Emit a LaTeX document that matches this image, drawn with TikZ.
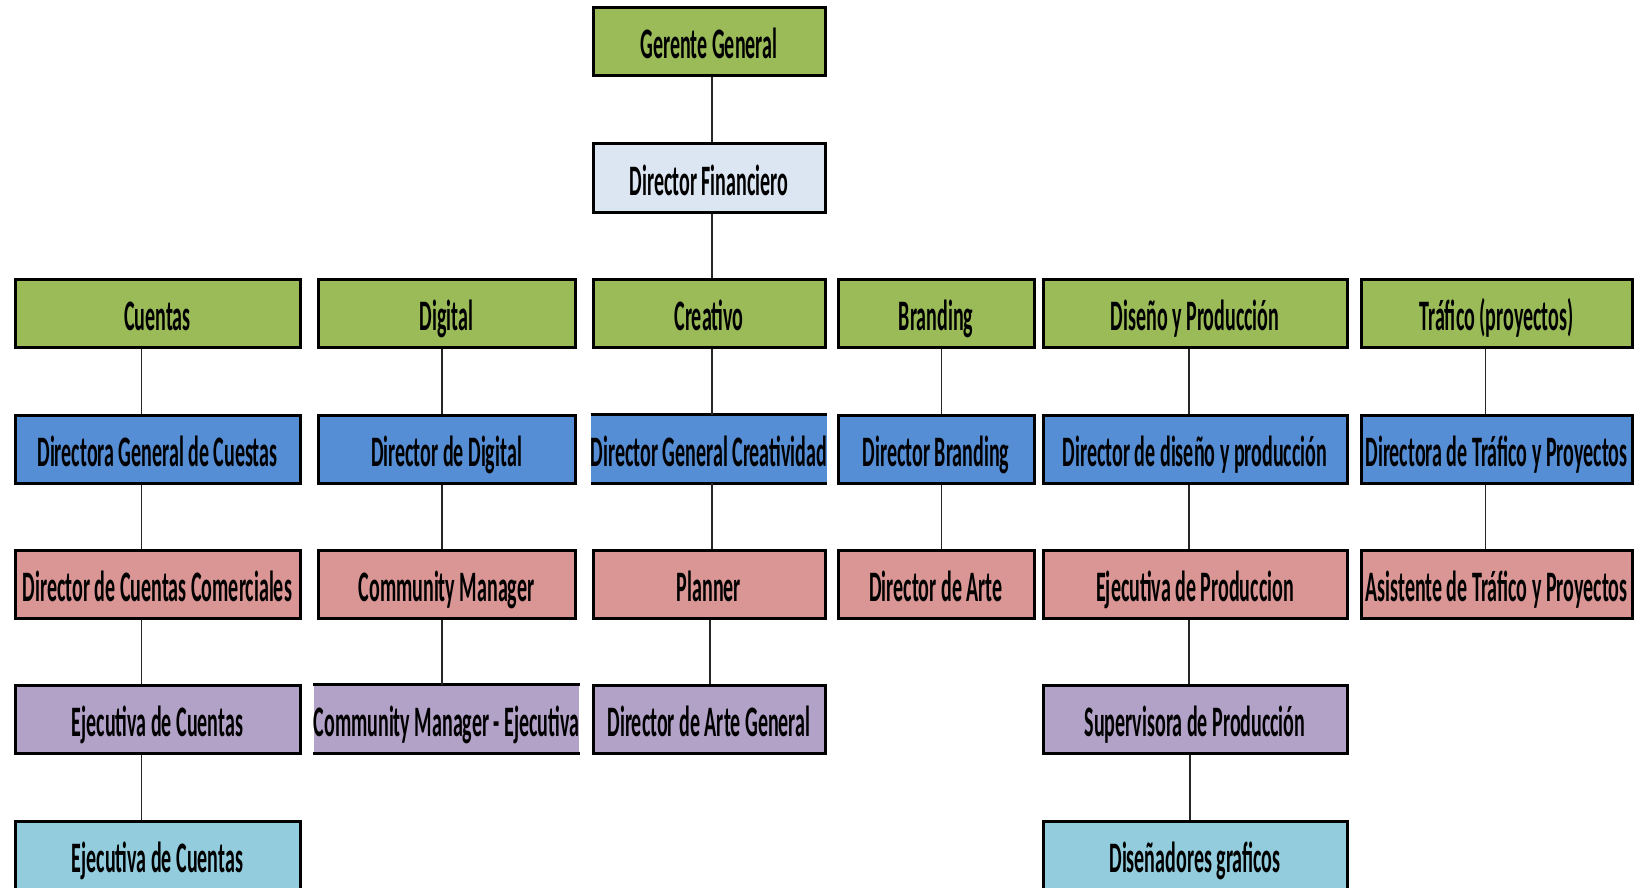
\documentclass[tikz,border=0pt]{standalone}
\usepackage{fontspec}
\setmainfont{Carlito}[FakeStretch=0.46]

\definecolor{lvlgreen}{HTML}{9BBB59}
\definecolor{lvlpale}{HTML}{DCE6F2}
\definecolor{lvlblue}{HTML}{558ED5}
\definecolor{lvlpink}{HTML}{D99694}
\definecolor{lvlpurple}{HTML}{B3A2C7}
\definecolor{lvlcyan}{HTML}{93CDDD}

\tikzset{org box/.style={draw, line width=3pt, minimum height=68pt, inner sep=0pt, text height=36pt, text depth=2pt, font=\fontsize{43.5}{50}\selectfont\bfseries},
         open box/.style={minimum height=68pt, inner sep=0pt, text height=36pt, text depth=2pt, font=\fontsize{43.5}{50}\selectfont\bfseries},
         org link/.style={draw=black!85, line width=1.5pt},}

\begin{document}
\begin{tikzpicture}[x=1pt,y=-1pt]
\useasboundingbox (0,0) rectangle (1646,888);
\clip (0,0) rectangle (1646,888);
% top
\node [org box,fill=lvlgreen,minimum width=232pt] (gerente) at ( 709, 42) {Gerente General};
\node [org box,fill=lvlpale,minimum width=232pt] (finanzas) at ( 709,178) {Director Financiero};
% areas
\node [org box,fill=lvlgreen,minimum width=285pt] (a1) at ( 157.5,313) {Cuentas};
\node [org box,fill=lvlgreen,minimum width=257pt] (b1) at ( 446.5,313) {Digital};
\node [org box,fill=lvlgreen,minimum width=232pt] (c1) at ( 709,313) {Creativo};
\node [org box,fill=lvlgreen,minimum width=196pt] (d1) at ( 936,313) {Branding};
\node [org box,fill=lvlgreen,minimum width=304pt] (e1) at (1195,313) {Diseño y Producción};
\node [org box,fill=lvlgreen,minimum width=271pt] (f1) at (1496.5,313) {Tráfico (proyectos)};
% directores
\node [org box,fill=lvlblue,minimum width=285pt] (a2) at ( 157.5,449) {Directora General de Cuestas};
\node [org box,fill=lvlblue,minimum width=257pt] (b2) at ( 446.5,449) {Director de Digital};
\node [open box,fill=lvlblue,minimum width=232pt] (c2) at ( 709,449) {Director General Creatividad};
\node [org box,fill=lvlblue,minimum width=196pt] (d2) at ( 936,449) {Director Branding};
\node [org box,fill=lvlblue,minimum width=304pt] (e2) at (1195,449) {Director de diseño y producción};
\node [org box,fill=lvlblue,minimum width=271pt] (f2) at (1496.5,449) {Directora de Tráfico y Proyectos};
% tercer nivel
\node [org box,fill=lvlpink,minimum width=285pt] (a3) at ( 157.5,584) {Director de Cuentas Comerciales};
\node [org box,fill=lvlpink,minimum width=257pt] (b3) at ( 446.5,584) {Community Manager};
\node [org box,fill=lvlpink,minimum width=232pt] (c3) at ( 709,584) {Planner};
\node [org box,fill=lvlpink,minimum width=196pt] (d3) at ( 936,584) {Director de Arte};
\node [org box,fill=lvlpink,minimum width=304pt] (e3) at (1195,584) {Ejecutiva de Produccion};
\node [org box,fill=lvlpink,minimum width=271pt] (f3) at (1496.5,584) {Asistente de Tráfico y Proyectos};
% cuarto nivel
\node [org box,fill=lvlpurple,minimum width=285pt] (a4) at ( 157.5,719) {Ejecutiva de Cuentas};
\node [open box,fill=lvlpurple,minimum width=257pt] (b4) at ( 446.5,719) {Community Manager - Ejecutiva};
\node [org box,fill=lvlpurple,minimum width=232pt] (c4) at ( 709,719) {Director de Arte General};
\node [org box,fill=lvlpurple,minimum width=304pt] (e4) at (1195,719) {Supervisora de Producción};
% quinto nivel
\node [org box,fill=lvlcyan,minimum width=285pt] (a5) at ( 157.5,855) {Ejecutiva de Cuentas};
\node [org box,fill=lvlcyan,minimum width=304pt] (e5) at (1195,855) {Diseñadores graficos};
% bordes de las cajas abiertas
\draw [line width=3pt] (c2.north west) -- (c2.north east) (c2.south west) -- (c2.south east);
\draw [line width=3pt] (b4.north west) -- (b4.north east) (b4.south west) -- (b4.south east);
% lineas
\draw [org link] ([xshift=3]gerente.south) -- ([xshift=3]finanzas.north);
\draw [org link] ([xshift=3]finanzas.south) -- ([xshift=3]c1.north);
\draw [org link] ([xshift=-16]a1.south) -- ([xshift=-16]a2.north);
\draw [org link] ([xshift=-16]a2.south) -- ([xshift=-16]a3.north);
\draw [org link] ([xshift=-16]a3.south) -- ([xshift=-16]a4.north);
\draw [org link] ([xshift=-16]a4.south) -- ([xshift=-16]a5.north);
\draw [org link] ([xshift=-4.5]b1.south) -- ([xshift=-4.5]b2.north);
\draw [org link] ([xshift=-4.5]b2.south) -- ([xshift=-4.5]b3.north);
\draw [org link] ([xshift=-4.5]b3.south) -- ([xshift=-4.5]b4.north);
\draw [org link] ([xshift=3]c1.south) -- ([xshift=3]c2.north);
\draw [org link] ([xshift=3]c2.south) -- ([xshift=3]c3.north);
\draw [org link] ([xshift=1]c3.south) -- ([xshift=1]c4.north);
\draw [org link] ([xshift=5.5]d1.south) -- ([xshift=5.5]d2.north);
\draw [org link] ([xshift=5.5]d2.south) -- ([xshift=5.5]d3.north);
\draw [org link] ([xshift=-6]e1.south) -- ([xshift=-6]e2.north);
\draw [org link] ([xshift=-6]e2.south) -- ([xshift=-6]e3.north);
\draw [org link] ([xshift=-6]e3.south) -- ([xshift=-6]e4.north);
\draw [org link] ([xshift=-5]e4.south) -- ([xshift=-5]e5.north);
\draw [org link] ([xshift=-11]f1.south) -- ([xshift=-11]f2.north);
\draw [org link] ([xshift=-11]f2.south) -- ([xshift=-11]f3.north);
\end{tikzpicture}
\end{document}
